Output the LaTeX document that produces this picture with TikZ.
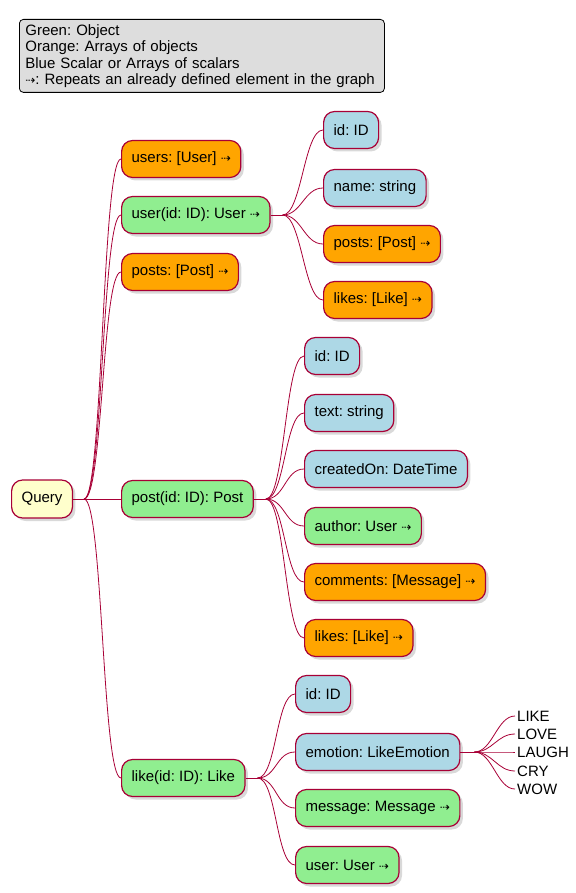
\documentclass[tikz,border=0pt]{standalone}
\usepackage{fontspec}
\setmainfont{Liberation Sans}
\newfontfamily\arrowfont{DejaVu Sans}
\usetikzlibrary{shadows}
\frenchspacing
\definecolor{edgered}{HTML}{A80036}
\definecolor{objgreen}{HTML}{90EE90}
\definecolor{arrorange}{HTML}{FFA500}
\definecolor{scalblue}{HTML}{ADD8E6}
\definecolor{rootyellow}{HTML}{FFFFCC}
\definecolor{legendgray}{HTML}{DDDDDD}
\newcommand{\rep}{{\arrowfont\fontsize{12}{14}\selectfont ⇢}}
\newcommand{\mmfont}{\fontsize{15}{16.5}\selectfont}

\tikzset{
	mmbox/.style={draw=edgered, line width=1.2pt, rounded corners=11pt, minimum height=37pt,
		inner xsep=10pt, anchor=west, font=\mmfont,
		drop shadow={shadow xshift=3pt, shadow yshift=-3pt, opacity=0.3}},
	obj/.style={mmbox, fill=objgreen},
	arr/.style={mmbox, fill=arrorange},
	scal/.style={mmbox, fill=scalblue},
	root/.style={mmbox, fill=rootyellow, minimum height=38pt},
	leaf/.style={anchor=west, inner sep=2pt, font=\mmfont},
	link/.style={draw=edgered, line width=0.8pt},
}

\begin{document}
\begin{tikzpicture}[x=1pt, y=-1pt]
		\useasboundingbox (0,0) rectangle (575,893);
		\node[draw, line width=0.8pt, fill=legendgray, rounded corners=4pt, anchor=north west,
			minimum width=365pt, minimum height=73pt, inner xsep=6pt, align=left, font=\mmfont,
			text width=353pt] (legend) at (19,19)
			{Green: Object\\Orange: Arrays of objects\\Blue Scalar or Arrays of scalars\\\rep: Repeats an already defined element in the graph};
		\node[root] (query) at (11,499) {Query};
		\node[arr] (users) at (121,159) {users: [User] \rep};
		\node[obj] (user) at (121,215) {user(id: ID): User \rep};
		\node[arr] (posts) at (121,272) {posts: [Post] \rep};
		\node[obj] (post) at (121,499) {post(id: ID): Post};
		\node[obj] (like) at (121,778) {like(id: ID): Like};
		\node[scal] (uid) at (323,130) {id: ID};
		\node[scal] (uname) at (323,188) {name: string};
		\node[arr] (uposts) at (323,244) {posts: [Post] \rep};
		\node[arr] (ulikes) at (323,300) {likes: [Like] \rep};
		\node[scal] (pid) at (304,356) {id: ID};
		\node[scal] (ptext) at (304,413) {text: string};
		\node[scal] (pcreated) at (304,469) {createdOn: DateTime};
		\node[obj] (pauthor) at (304,526) {author: User \rep};
		\node[arr] (pcomments) at (304,582) {comments: [Message] \rep};
		\node[arr] (plikes) at (304,638) {likes: [Like] \rep};
		\node[scal] (lid) at (295,694) {id: ID};
		\node[scal] (lemotion) at (295,752) {emotion: LikeEmotion};
		\node[obj] (lmessage) at (295,808) {message: Message \rep};
		\node[obj] (luser) at (295,865) {user: User \rep};
		\node[leaf] (elike) at (515,716) {LIKE};
		\node[leaf] (elove) at (515,734) {LOVE};
		\node[leaf] (elaugh) at (515,752) {LAUGH};
		\node[leaf] (ecry) at (515,771) {CRY};
		\node[leaf] (ewow) at (515,789) {WOW};
		\draw[link] (query.east) -- ++(11,0) coordinate (qb);
		\foreach \c in {users,user,posts,post,like}
			\draw[link] (qb) .. controls +(19,0) and +(-19,0) .. (\c.west);
		\draw[link] (user.east) -- ++(12,0) coordinate (ub);
		\foreach \c in {uid,uname,uposts,ulikes}
			\draw[link] (ub) .. controls +(19,0) and +(-19,0) .. (\c.west);
		\draw[link] (post.east) -- ++(12,0) coordinate (pb);
		\foreach \c in {pid,ptext,pcreated,pauthor,pcomments,plikes}
			\draw[link] (pb) .. controls +(19,0) and +(-19,0) .. (\c.west);
		\draw[link] (like.east) -- ++(12,0) coordinate (lb);
		\foreach \c in {lid,lemotion,lmessage,luser}
			\draw[link] (lb) .. controls +(19,0) and +(-19,0) .. (\c.west);
		\draw[link] (lemotion.east) -- ++(14,0) coordinate (eb);
		\foreach \c in {elike,elove,elaugh,ecry,ewow}
			\draw[link] (eb) .. controls +(18,0) and +(-18,0) .. (\c.west);
	\end{tikzpicture}
\end{document}
